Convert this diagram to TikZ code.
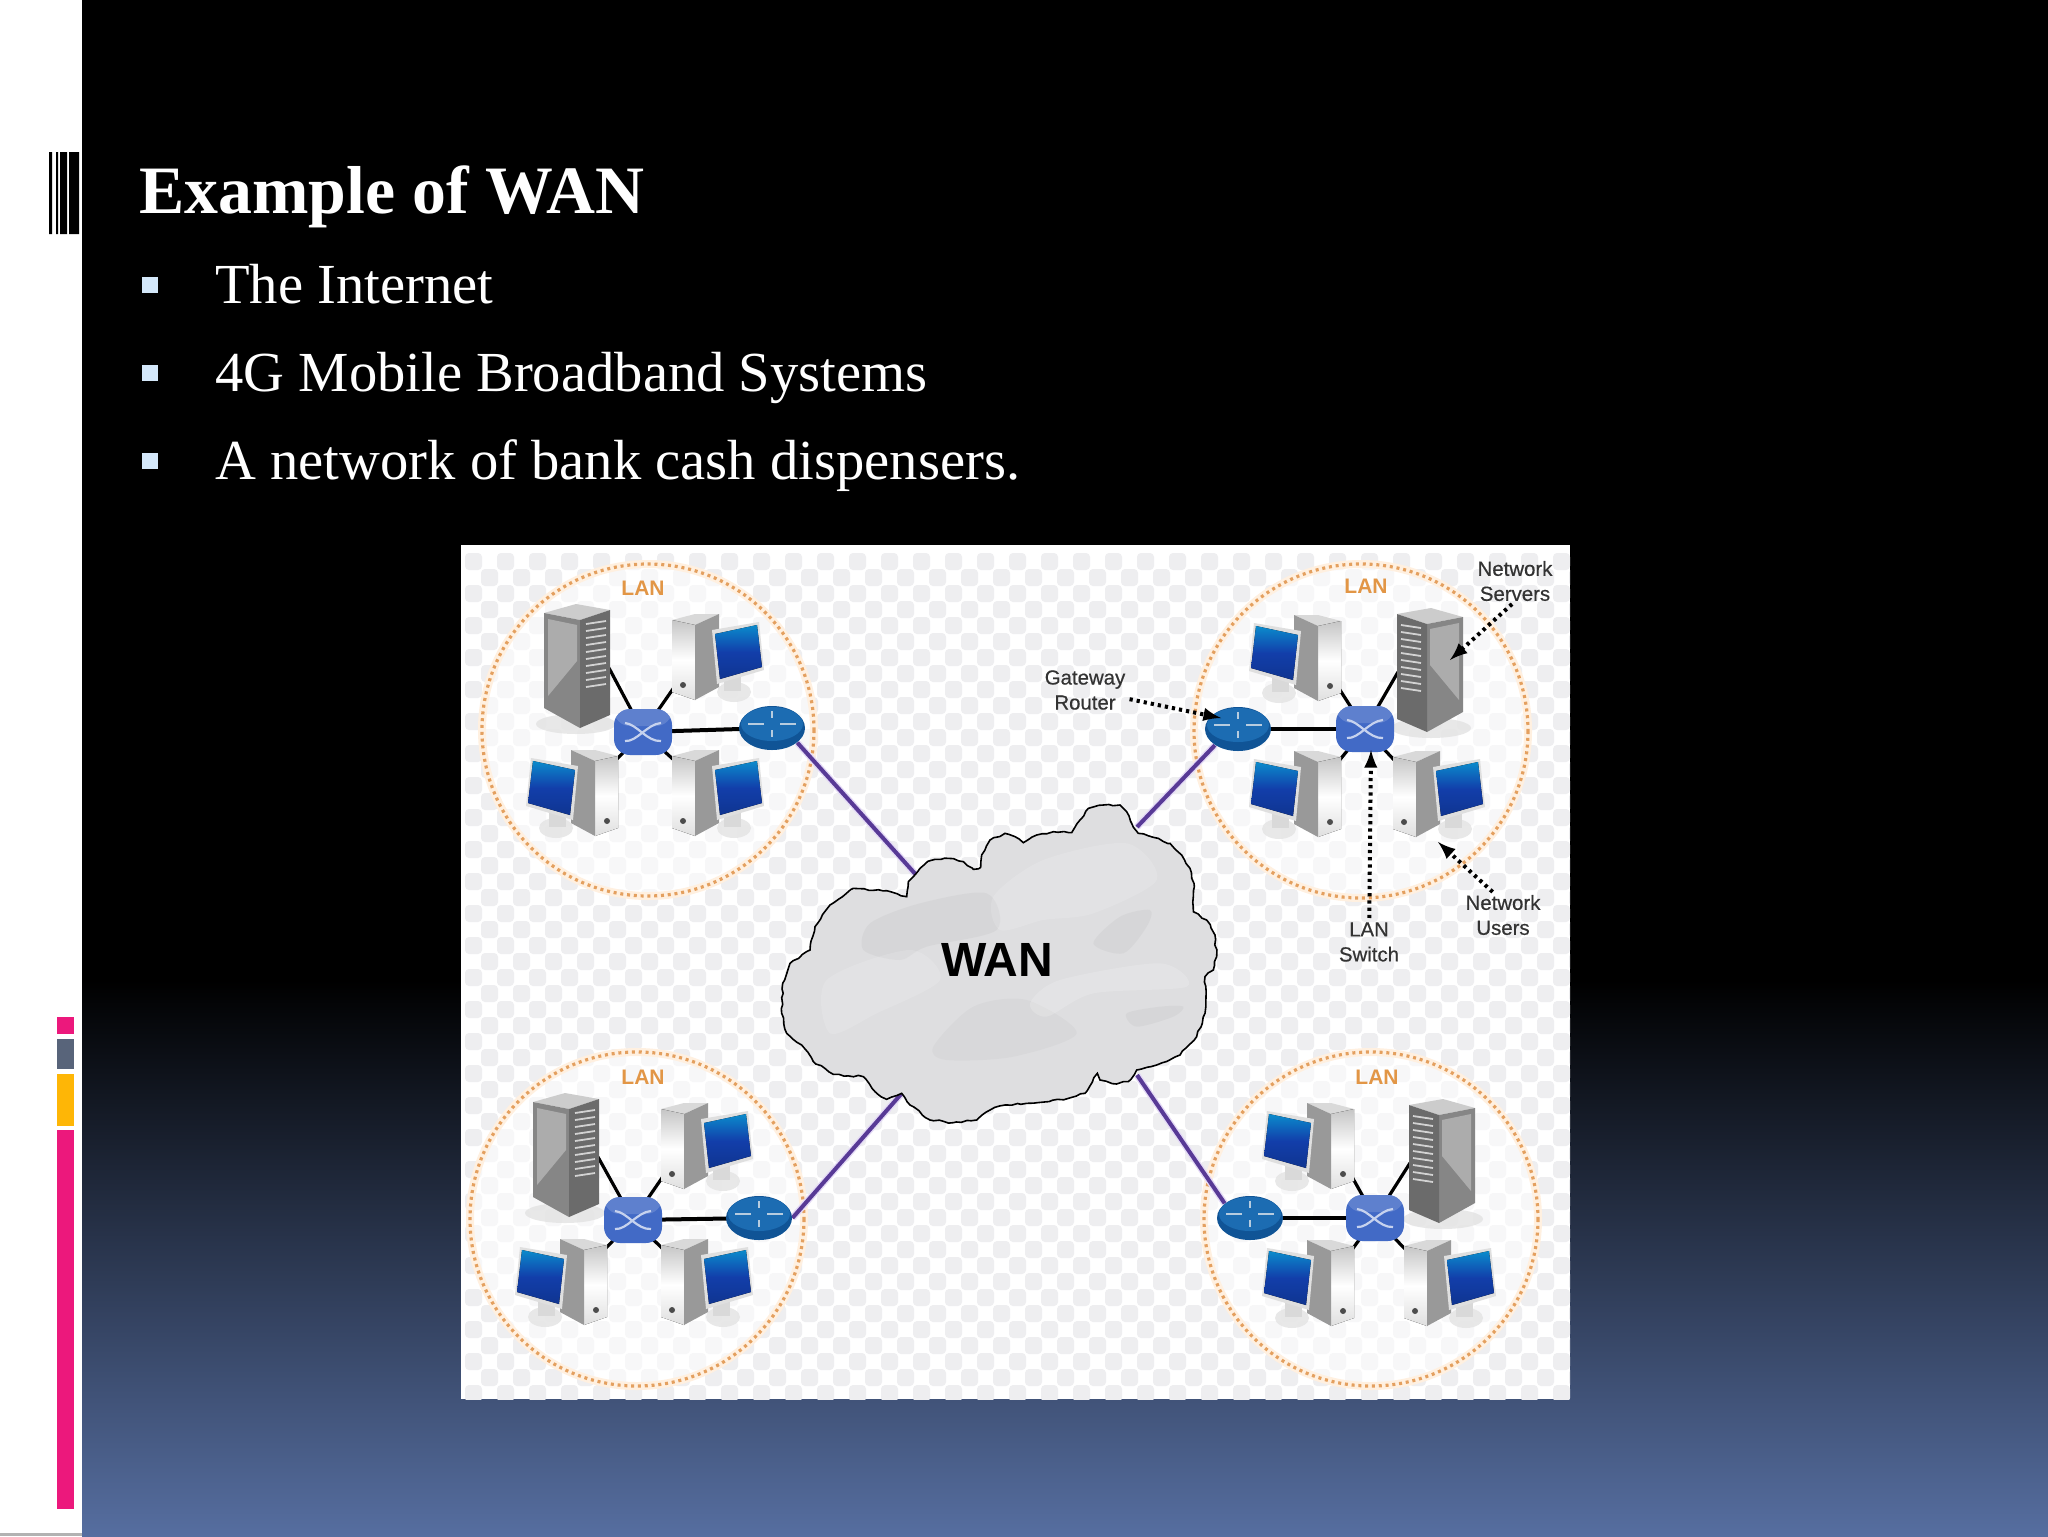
\documentclass[tikz,border=0pt]{standalone}
\usepackage{fontspec}
\setmainfont{Liberation Serif}
\setsansfont{Liberation Sans}
\newfontfamily\notefont[FakeBold=0.5]{Liberation Sans}
\usetikzlibrary{decorations.pathmorphing,shapes.geometric}
\pgfdeclarelayer{back}
\pgfdeclarelayer{wires}
\pgfsetlayers{back,wires,main}
\definecolor{barpink}{RGB}{236,24,124}
\definecolor{bargrey}{RGB}{88,100,122}
\definecolor{barorange}{RGB}{254,182,6}
\definecolor{slidefoot}{RGB}{86,110,160}
\definecolor{bulletblue}{RGB}{212,232,250}
\definecolor{checkgrey}{RGB}{238,238,240}
\definecolor{lanorange}{RGB}{228,160,95}
\definecolor{lanhalo}{RGB}{255,240,224}
\definecolor{lantextcol}{RGB}{226,150,70}
\definecolor{linkpurple}{RGB}{88,58,150}
\definecolor{linkhalo}{RGB}{228,218,246}
\definecolor{screenblue}{RGB}{18,62,170}
\definecolor{switchblue}{RGB}{66,106,198}
\definecolor{routerblue}{RGB}{16,84,150}
\definecolor{routertop}{RGB}{28,108,178}
\definecolor{cloudgrey}{RGB}{222,222,224}
\tikzset{
  lanring/.style={draw=lanorange,line width=1.6pt,dash pattern=on 1.5pt off 1.9pt},
  langlow/.style={draw=lanhalo,line width=4pt,fill=white,fill opacity=0.55},
  lantext/.style={text=lantextcol,font=\sffamily\bfseries\fontsize{10.5}{12}\selectfont,inner sep=0pt},
  notetext/.style={text=black!80,font=\notefont\fontsize{10.2}{12.5}\selectfont,align=center,inner sep=0pt},
  notearrow/.style={line width=2pt,black,dash pattern=on 1.6pt off 2pt,-latex,shorten <=2pt},
  blackwire/.style={line width=1.6pt,black},
  backbone/.style={line width=2pt,black},
  uplink/.style={line width=.7pt,double distance=2pt,draw=linkhalo,double=linkpurple},
  bodytext/.style={text=white,anchor=base west,inner sep=0pt,font=\fontsize{28.3}{34}\selectfont},
  bulletbox/.style={fill=bulletblue,draw=none,minimum size=8pt,inner sep=0pt},
  switchnode/.style={fill=switchblue,draw=none,rounded corners=8pt,minimum width=29pt,minimum height=23pt,inner sep=0pt,
    path picture={
      \begin{scope}[shift={(path picture bounding box.center)}]
        \fill[switchblue!70!white,opacity=.5] (-29,-23) rectangle (29,-6);
        \draw[white!70!switchblue,line width=1.1pt] (-18,-9) .. controls (-6,-8) and (4,10) .. (18,9);
        \draw[white!70!switchblue,line width=1.1pt] (-18,9) .. controls (-6,10) and (4,-8) .. (18,-9);
      \end{scope}}},
  routernode/.style={ellipse,fill=routerblue,draw=none,minimum width=33pt,minimum height=22pt,inner sep=0pt,
    path picture={
      \begin{scope}[shift={(path picture bounding box.center)}]
        \fill[routertop] (0,-4) ellipse (31 and 17);
        \draw[routerblue!30!white,line width=1.3pt] (-24,-4) -- (-8,-4) (8,-4) -- (24,-4) (0,-17) -- (0,-10) (0,2) -- (0,9);
      \end{scope}}},
  serverbox/.pic={
    \fill[gray!25,opacity=.7] (0,58) ellipse (40 and 10);
    \fill[gray!40!white] (-32,-53) -- (0,-62) -- (34,-56) -- (4,-46) -- cycle;
    \fill[gray!95] (-32,-53) -- (4,-46) -- (4,62) -- (-32,42) -- cycle;
    \fill[gray!45!white,opacity=.6] (-28,-47) -- (1,-41) -- (1,-5) -- (-28,30) -- cycle;
    \fill[black!58] (4,-46) -- (34,-56) -- (34,49) -- (4,62) -- cycle;
    \foreach \yy in {-42,-35,...,22} {
      \draw[gray!35!white,line width=.9pt] (10,\yy) -- (30,\yy-3);
    }
    \coordinate (-port) at (33,2);
  },
  pcbox/.pic={
    \fill[gray!22,opacity=.8] (17,35) ellipse (17 and 10);
    \fill[gray!30] (7,15) rectangle (24,34);
    \fill[gray!30] (-45,-37) -- (-22,-43) -- (2,-43) -- (-22,-32) -- cycle;
    \fill[top color=gray!45,bottom color=gray!25,middle color=white] (-45,-37) -- (-22,-32) -- (-22,43) -- (-45,35) -- cycle;
    \fill[gray!80] (-22,-32) -- (2,-43) -- (2,30) -- (-22,43) -- cycle;
    \fill[black!70] (-34,28) circle (3);
    \fill[gray!25] (-5,-27) -- (42,-35) -- (47,13) -- (0,27) -- cycle;
    \fill[top color=screenblue!60!cyan,bottom color=screenblue!85!black,middle color=screenblue] (-2,-23) -- (40,-32) -- (45,10) -- (3,22) -- cycle;
    \coordinate (-porthigh) at (-42,-32);
    \coordinate (-portlow) at (-42,29);
  }
}
\begin{document}
\begin{tikzpicture}[x=0.5pt,y=-0.5pt]
\useasboundingbox (0,0) rectangle (2048,1536);
\pgfmathsetseed{11}

\begin{pgfonlayer}{back}
%Slide background
\fill[white] (0,0) rectangle (82,1536);
\fill[gray!60] (0,1533) rectangle (82,1536);
\fill[black] (82,0) rectangle (2048,981);
\shade[top color=black,bottom color=slidefoot] (82,980) rectangle (2048,1536);
%Barcode strip
\fill[black] (49,152) rectangle (52,234) (56,152) rectangle (58,234) (60,152) rectangle (67,234) (69,152) rectangle (79,234);
%Side bars
\fill[barpink] (57,1017) rectangle (74,1034);
\fill[bargrey] (57,1039) rectangle (74,1069);
\fill[barorange] (57,1074) rectangle (74,1126);
\fill[barpink] (57,1130) rectangle (74,1509);
%Picture backdrop with its checks
\fill[white] (461,545) rectangle (1570,1399);
\begin{scope}
  \clip (461,545) rectangle (1570,1399);
  \foreach \xx in {0,32,...,1120} {
    \foreach \yy in {0,32,...,864} {
      \fill[checkgrey,rounded corners=2pt] (465+\xx,553+\yy) rectangle +(17,17);
      \fill[checkgrey,rounded corners=2pt] (481+\xx,569+\yy) rectangle +(17,17);
    }
  }
\end{scope}
%LAN rings
\draw[langlow] (648,730) circle (166);
\draw[lanring] (648,730) circle (166);
\draw[langlow] (1361,731) circle (167);
\draw[lanring] (1361,731) circle (167);
\draw[langlow] (637,1219) circle (167);
\draw[lanring] (637,1219) circle (167);
\draw[langlow] (1371,1219) circle (167);
\draw[lanring] (1371,1219) circle (167);
\end{pgfonlayer}

% Text Node
\node[anchor=base west,inner sep=0pt,text=white,font=\bfseries\fontsize{33.9}{42}\selectfont] (title) at (139,213) {Example of WAN};
\node[bulletbox] (bulA) at (150,284.5) {};
\node[bodytext] (itemA) at (215,303) {The Internet};
\node[bulletbox] (bulB) at (150,372.5) {};
\node[bodytext] (itemB) at (215,391) {4G Mobile Broadband Systems};
\node[bulletbox] (bulC) at (150,461) {};
\node[bodytext] (itemC) at (215,479) {A network of bank cash dispensers.};

%Cloud
\begin{scope}[shift={(760,780)},scale=1/3]
  \draw[black,line width=.8pt,fill=cloudgrey,decorate,decoration={random steps,segment length=2.5pt,amplitude=.5pt}]
    (440,350) -- (445,305) -- (480,265) -- (510,242) -- (565,235) -- (610,245) -- (640,268) -- (662,262) -- (665,225) -- (690,180) -- (735,160) -- (765,170) -- (790,188) -- (830,165) -- (880,155) -- (935,158) -- (960,120) -- (985,85) -- (1030,75) -- (1080,75) -- (1100,95) -- (1115,130) -- (1135,160) -- (1180,172) -- (1230,190) -- (1265,225) -- (1290,265) -- (1303,320) -- (1300,395) -- (1340,420) -- (1365,465) -- (1370,530) -- (1360,570) -- (1335,590) -- (1338,650) -- (1335,700) -- (1310,770) -- (1260,825) -- (1190,855) -- (1130,870) -- (1105,905) -- (1070,912) -- (1020,900) -- (1012,880) -- (975,940) -- (925,955) -- (800,970) -- (735,975) -- (690,990) -- (650,1020) -- (580,1028) -- (510,1020) -- (450,975) -- (425,940) -- (380,958) -- (345,935) -- (310,890) -- (220,883) -- (160,845) -- (125,795) -- (80,760) -- (65,700) -- (68,610) -- (90,550) -- (150,510) -- (165,440) -- (210,375) -- (280,325) -- (380,332) -- cycle;
  \fill[gray,opacity=.08] plot[smooth cycle] coordinates {(330,430) (480,370) (680,340) (710,450) (500,500) (420,540) (310,510)};
  \fill[white,opacity=.14] plot[smooth cycle] coordinates {(700,350) (850,240) (1100,190) (1190,300) (1000,400) (850,420) (720,450)};
  \fill[gray,opacity=.08] plot[smooth cycle] coordinates {(1000,490) (1080,410) (1170,390) (1160,440) (1090,520)};
  \fill[white,opacity=.14] plot[smooth cycle] coordinates {(200,600) (450,510) (540,600) (350,700) (210,760)};
  \fill[gray,opacity=.06] plot[smooth cycle] coordinates {(520,800) (640,680) (800,660) (950,760) (760,830) (560,840)};
  \fill[white,opacity=.18] plot[smooth cycle] coordinates {(810,670) (900,600) (1200,550) (1280,620) (1000,640) (860,710)};
  \fill[gray,opacity=.08] plot[smooth cycle] coordinates {(1100,700) (1200,680) (1270,680) (1240,710) (1130,740)};
\end{scope}
\node[inner sep=0pt,text=black,font=\sffamily\bfseries\fontsize{24}{28}\selectfont] (wan) at (997,960) {WAN};
\coordinate (cloudA) at (918,877);
\coordinate (cloudB) at (1137,827);
\coordinate (cloudC) at (902,1093);
\coordinate (cloudD) at (1137,1075);

%LAN top left
\pic (srvA) at (576,666) {serverbox};
\pic (pcAa) at (717,657) {pcbox};
\pic[xscale=-1] (pcAb) at (573,793) {pcbox};
\pic (pcAc) at (717,793) {pcbox};
\node[switchnode] (swA) at (643,732) {};
\node[routernode] (rtA) at (772,728) {};
\node[lantext] (lanA) at (643,588) {LAN};

%LAN top right
\pic[xscale=-1] (srvB) at (1431,670) {serverbox};
\pic[xscale=-1] (pcBa) at (1296,658) {pcbox};
\pic[xscale=-1] (pcBb) at (1296,794) {pcbox};
\pic (pcBc) at (1438,794) {pcbox};
\node[switchnode] (swB) at (1365,729) {};
\node[routernode] (rtB) at (1238,729) {};
\node[lantext] (lanB) at (1366,586) {LAN};

%LAN bottom left
\pic (srvC) at (565,1155) {serverbox};
\pic (pcCa) at (706,1146) {pcbox};
\pic[xscale=-1] (pcCb) at (562,1282) {pcbox};
\pic (pcCc) at (706,1282) {pcbox};
\node[switchnode] (swC) at (633,1220) {};
\node[routernode] (rtC) at (759,1218) {};
\node[lantext] (lanC) at (643,1077) {LAN};

%LAN bottom right
\pic[xscale=-1] (srvD) at (1443,1161) {serverbox};
\pic[xscale=-1] (pcDa) at (1309,1146) {pcbox};
\pic[xscale=-1] (pcDb) at (1309,1283) {pcbox};
\pic (pcDc) at (1449,1283) {pcbox};
\node[switchnode] (swD) at (1375,1218) {};
\node[routernode] (rtD) at (1250,1218) {};
\node[lantext] (lanD) at (1377,1077) {LAN};

\begin{pgfonlayer}{wires}
%Black wires
\draw[backbone] (swA.center) -- (rtA.center);
\draw[blackwire] (srvA-port) -- (swA.center);
\draw[blackwire] (pcAa-portlow) -- (swA.center);
\draw[blackwire] (pcAb-porthigh) -- (swA.center);
\draw[blackwire] (pcAc-porthigh) -- (swA.center);
\draw[backbone] (swB.center) -- (rtB.center);
\draw[blackwire] (srvB-port) -- (swB.center);
\draw[blackwire] (pcBa-portlow) -- (swB.center);
\draw[blackwire] (pcBb-porthigh) -- (swB.center);
\draw[blackwire] (pcBc-porthigh) -- (swB.center);
\draw[backbone] (swC.center) -- (rtC.center);
\draw[blackwire] (srvC-port) -- (swC.center);
\draw[blackwire] (pcCa-portlow) -- (swC.center);
\draw[blackwire] (pcCb-porthigh) -- (swC.center);
\draw[blackwire] (pcCc-porthigh) -- (swC.center);
\draw[backbone] (swD.center) -- (rtD.center);
\draw[blackwire] (srvD-port) -- (swD.center);
\draw[blackwire] (pcDa-portlow) -- (swD.center);
\draw[blackwire] (pcDb-porthigh) -- (swD.center);
\draw[blackwire] (pcDc-porthigh) -- (swD.center);
%Uplinks to the cloud
\draw[uplink] (rtA.-30) -- (cloudA);
\draw[uplink] (rtB.215) -- (cloudB);
\draw[uplink] (rtC.east) -- (cloudC);
\draw[uplink] (rtD.150) -- (cloudD);
\end{pgfonlayer}

% Text Node
\node[notetext] (noteSrv) at (1515,581) {Network\\Servers};
\node[notetext] (noteGw) at (1085,690) {Gateway\\Router};
\node[notetext] (noteSw) at (1369,942) {LAN\\Switch};
\node[notetext] (noteUsr) at (1503,915) {Network\\Users};
\coordinate (tipSrv) at (1450,660);
\coordinate (tipGw) at (1221,718);
\coordinate (tipSw) at (1371,750);
\coordinate (tipUsr) at (1438,842);
\draw[notearrow] (noteSrv.south) -- (tipSrv);
\draw[notearrow] (noteGw) -- (tipGw);
\draw[notearrow] (noteSw) -- (tipSw);
\draw[notearrow] (noteUsr.110) -- (tipUsr);
\end{tikzpicture}
\end{document}
